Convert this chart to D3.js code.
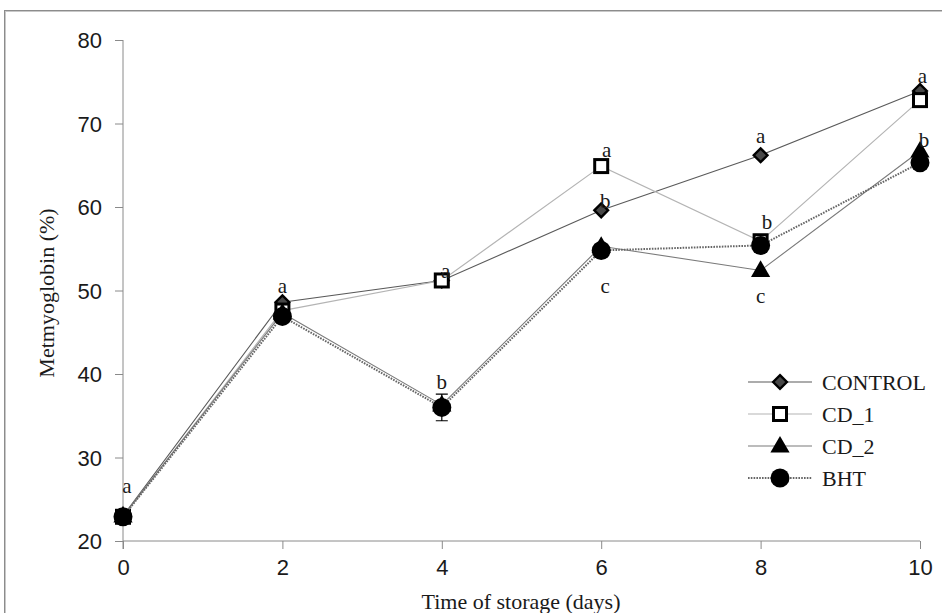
<!DOCTYPE html>
<html>
<head>
<meta charset="utf-8">
<script src="https://cdn.jsdelivr.net/npm/d3@7/dist/d3.min.js"></script>
<style>
  html, body { margin: 0; padding: 0; background: #fff; }
  svg { display: block; }
</style>
</head>
<body>
<svg id="chart" width="942" height="613"></svg>
<script>
// ---- data ----
const days = [0, 2, 4, 6, 8, 10];
const seriesNames = ["CONTROL", "CD_1", "CD_2", "BHT"];
const control = [23.0, 48.6, 51.2, 59.6, 66.2, 73.9];
const cd1     = [22.9, 47.6, 51.2, 64.9, 55.9, 72.8];
const cd2     = [23.0, 47.3, 36.3, 55.3, 52.4, 66.7];
const bht     = [22.9, 46.9, 36.0, 54.8, 55.4, 65.3];
const bhtErr  = [0, 0, 1.6, 0, 0, 0];
const yTicks = [20, 30, 40, 50, 60, 70, 80];
const xTicks = [0, 2, 4, 6, 8, 10];
// significance letters (day, value in % units, letter)
const letterDays   = [0.05, 2, 4.05, 4, 6.07, 6.05, 6.05, 8, 8.08, 8, 10.03, 10.05];
const letterValues = [26.5, 50.4, 52.2, 39.0, 66.8, 60.6, 50.4, 68.4, 58.1, 49.2, 75.6, 67.9];
const letterTexts  = ["a", "a", "a", "b", "a", "b", "c", "a", "b", "c", "a", "b"];

const allValues = [control, cd1, cd2, bht];

// ---- layout ----
const svg = d3.select("#chart");
const x = d3.scaleLinear().domain([0, 10]).range([123, 920]);
const y = d3.scaleLinear().domain([20, 80]).range([541, 40]);

// outer frame (double grey line)
svg.append("rect").attr("x", 4.5).attr("y", 10.5).attr("width", 960).attr("height", 640)
  .attr("fill", "none").attr("stroke", "#8c8c8c").attr("stroke-width", 1);
svg.append("rect").attr("x", 5.5).attr("y", 11.5).attr("width", 960).attr("height", 640)
  .attr("fill", "none").attr("stroke", "#c8c8c8").attr("stroke-width", 1);

const tickFont = "'Liberation Sans Narrow', 'Liberation Sans', Arial, sans-serif";
const serif = "'Liberation Serif', 'Times New Roman', serif";

// axes
const xAxis = d3.axisBottom(x).tickValues(xTicks).tickSize(8).tickPadding(10).tickFormat(d3.format("d"));
const yAxis = d3.axisLeft(y).tickValues(yTicks).tickSize(8).tickPadding(13).tickFormat(d3.format("d"));

const gx = svg.append("g").attr("transform", `translate(0,${y(20)})`).call(xAxis);
const gy = svg.append("g").attr("transform", `translate(${x(0)},0)`).call(yAxis);
[gx, gy].forEach(g => {
  g.select(".domain").attr("stroke", "#8a8a8a").attr("stroke-width", 1);
  g.selectAll(".tick line").attr("stroke", "#8a8a8a").attr("stroke-width", 1);
  g.selectAll(".tick text").attr("fill", "#1a1a1a").style("font-family", tickFont).style("font-size", "22px");
});
gy.select(".domain").attr("d", `M0,${y(80)}V${y(20) + 8}`);
gx.select(".domain").attr("d", `M${x(0)},0H${x(10)}`);
gy.selectAll(".tick text").attr("dy", "0.36em");

// axis titles
svg.append("text").attr("x", 521).attr("y", 609).attr("text-anchor", "middle")
  .style("font-family", serif).style("font-size", "22px").attr("fill", "#1a1a1a")
  .text("Time of storage (days)");
svg.append("text").attr("transform", "translate(54,293) rotate(-90)").attr("text-anchor", "middle")
  .style("font-family", serif).style("font-size", "22px").attr("fill", "#1a1a1a")
  .text("Metmyoglobin (%)");

// styles per series
const lineStyles = [
  { stroke: "#5a5a5a", width: 1.1, dash: null },
  { stroke: "#b4b4b4", width: 1.2, dash: null },
  { stroke: "#7a7a7a", width: 1.1, dash: null },
  { stroke: "#666666", width: 2, dash: "1.6,1.2" }
];

function drawMarker(g, i, cx, cy) {
  if (i === 0) {
    g.append("path").attr("d", d3.symbol().type(d3.symbolDiamond2).size(120)())
      .attr("transform", `translate(${cx},${cy})`)
      .attr("fill", "#474747").attr("stroke", "#000").attr("stroke-width", 2.4);
  } else if (i === 1) {
    g.append("rect").attr("x", cx - 6.5).attr("y", cy - 6.5).attr("width", 13).attr("height", 13)
      .attr("fill", "#fff").attr("stroke", "#000").attr("stroke-width", 3);
  } else if (i === 2) {
    g.append("path").attr("d", d3.symbol().type(d3.symbolTriangle).size(160)())
      .attr("transform", `translate(${cx},${cy + 1})`).attr("fill", "#000");
  } else {
    g.append("circle").attr("cx", cx).attr("cy", cy).attr("r", 9.5).attr("fill", "#000");
  }
}

const line = d3.line().x((d, j) => x(days[j])).y(d => y(d));

allValues.forEach((vals, i) => {
  const g = svg.append("g");
  const st = lineStyles[i];
  g.append("path").datum(vals).attr("d", line).attr("fill", "none")
    .attr("stroke", st.stroke).attr("stroke-width", st.width)
    .attr("stroke-dasharray", st.dash);
  if (i === 3) {
    vals.forEach((v, j) => {
      const e = bhtErr[j];
      if (e > 0) {
        const cx = x(days[j]);
        g.append("path").attr("d", `M${cx},${y(v + e)}V${y(v - e)}M${cx - 6},${y(v + e)}H${cx + 6}M${cx - 6},${y(v - e)}H${cx + 6}`)
          .attr("stroke", "#000").attr("stroke-width", 1.2).attr("fill", "none");
      }
    });
  }
  vals.forEach((v, j) => drawMarker(g, i, x(days[j]), y(v)));
});

// significance letters
letterTexts.forEach((t, k) => {
  svg.append("text").attr("x", x(letterDays[k])).attr("y", y(letterValues[k]))
    .attr("dy", "0.3em").attr("text-anchor", "middle")
    .style("font-family", serif).style("font-size", "21px").attr("fill", "#1a1a1a")
    .text(t);
});

// legend
const legendX1 = 748, legendX2 = 812, legendY0 = 382, legendStep = 32;
seriesNames.forEach((name, i) => {
  const ly = legendY0 + i * legendStep;
  const st = lineStyles[i];
  const g = svg.append("g");
  g.append("line").attr("x1", legendX1).attr("x2", legendX2).attr("y1", ly).attr("y2", ly)
    .attr("stroke", st.stroke).attr("stroke-width", st.width).attr("stroke-dasharray", st.dash);
  drawMarker(g, i, (legendX1 + legendX2) / 2, ly);
  g.append("text").attr("x", 822).attr("y", ly).attr("dy", "0.35em")
    .style("font-family", serif).style("font-size", "22px").attr("fill", "#1a1a1a")
    .text(name);
});
</script>
</body>
</html>
